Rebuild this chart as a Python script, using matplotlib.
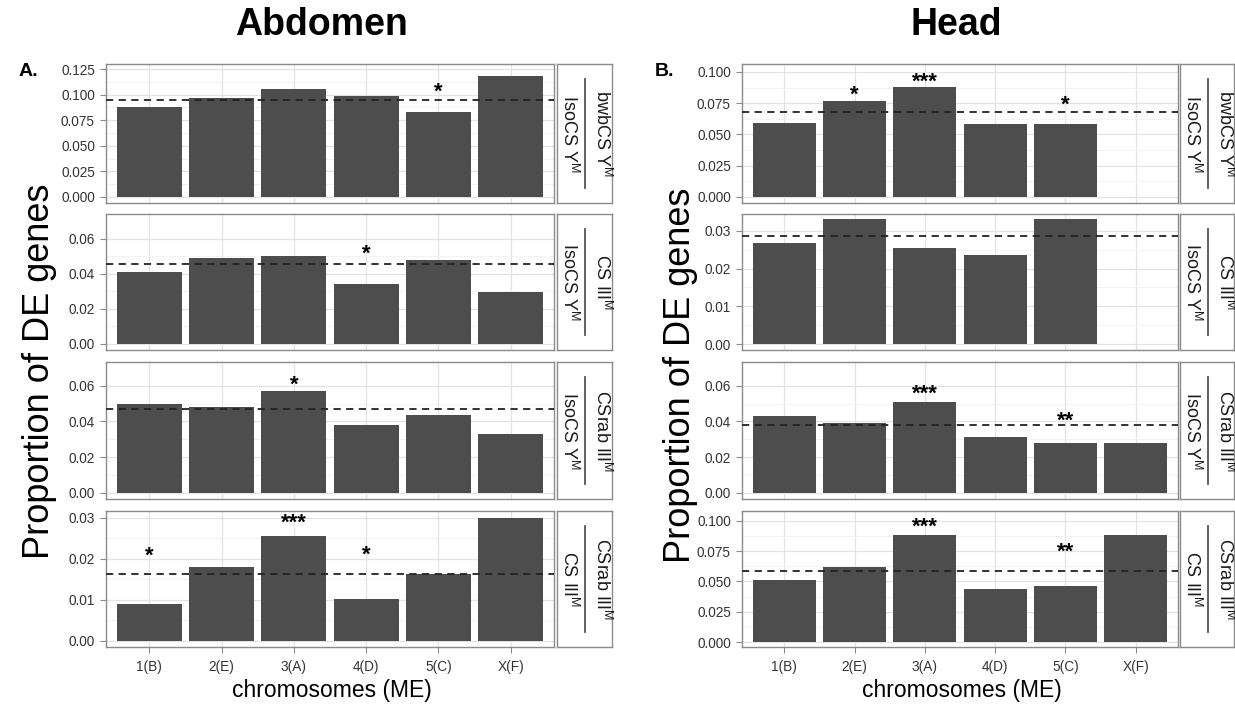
import numpy as np
import matplotlib
matplotlib.use("Agg")
import matplotlib.pyplot as plt

plt.rcParams['font.family'] = ['Liberation Sans', 'DejaVu Sans']
plt.rcParams['mathtext.fontset'] = 'custom'
plt.rcParams['mathtext.rm'] = 'Liberation Sans'
plt.rcParams['mathtext.it'] = 'Liberation Sans:italic'
plt.rcParams['mathtext.bf'] = 'Liberation Sans:bold'

# ---------------- data ----------------
categories = ['1(B)', '2(E)', '3(A)', '4(D)', '5(C)', 'X(F)']

abd_bwb_iso = [0.088, 0.097, 0.106, 0.099, 0.083, 0.118]
abd_cs_iso = [0.041, 0.049, 0.050, 0.034, 0.048, 0.0295]
abd_csrab_iso = [0.050, 0.048, 0.057, 0.038, 0.0435, 0.033]
abd_csrab_cs = [0.0091, 0.018, 0.0256, 0.0103, 0.0164, 0.0299]

head_bwb_iso = [0.059, 0.077, 0.088, 0.058, 0.058, 0.0]
head_cs_iso = [0.0267, 0.033, 0.0255, 0.0236, 0.033, 0.0]
head_csrab_iso = [0.043, 0.039, 0.051, 0.031, 0.028, 0.028]
head_csrab_cs = [0.051, 0.062, 0.088, 0.044, 0.046, 0.088]

abd_means = [0.095, 0.0455, 0.047, 0.0163]
head_means = [0.068, 0.0287, 0.038, 0.059]

abd_stars = [
    [(4, '*', 0.107)],
    [(3, '*', 0.054)],
    [(2, '*', 0.063)],
    [(0, '*', 0.0218), (2, '***', 0.0299), (3, '*', 0.022)],
]
head_stars = [
    [(1, '*', 0.085), (2, '***', 0.096), (4, '*', 0.077)],
    [],
    [(2, '***', 0.058), (4, '**', 0.043)],
    [(2, '***', 0.099), (4, '**', 0.078)],
]

SUP = r'$^{\mathrm{M}}$'
strip_top = ['bwbCS Y' + SUP, 'CS III' + SUP, 'CSrab III' + SUP, 'CSrab III' + SUP]
strip_bottom = ['IsoCS Y' + SUP, 'IsoCS Y' + SUP, 'IsoCS Y' + SUP, 'CS III' + SUP]

abd_ticks = [np.arange(0, 0.126, 0.025), [0, 0.02, 0.04, 0.06], [0, 0.02, 0.04, 0.06], [0, 0.01, 0.02, 0.03]]
abd_fmt = ['%.3f', '%.2f', '%.2f', '%.2f']
abd_lims = [(-0.006, 0.130), (-0.0035, 0.0743), (-0.0035, 0.0733), (-0.0015, 0.0317)]

head_ticks = [np.arange(0, 0.101, 0.025), [0, 0.01, 0.02, 0.03], [0, 0.02, 0.04, 0.06], np.arange(0, 0.101, 0.025)]
head_fmt = ['%.3f', '%.2f', '%.2f', '%.3f']
head_lims = [(-0.005, 0.1064), (-0.0015, 0.0344), (-0.0035, 0.0733), (-0.004, 0.108)]

# ---------------- layout ----------------
W, H = 1235, 706
fig = plt.figure(figsize=(W / 100, H / 100), dpi=100)

def rect(x0, x1, y0, y1):
    return [x0 / W, 1 - y1 / H, (x1 - x0) / W, (y1 - y0) / H]

rows_px = [(64, 203), (214, 350), (362, 499), (511, 647)]
BAR = '#4d4d4d'
BORDER = '#8a8a8a'
GRID = '#e3e3e3'
GRIDMIN = '#f1f1f1'
TICKC = '#333333'

def draw_group(x0, x1, sx0, sx1, series, means, stars, ticks, fmts, lims):
    xpos = np.arange(len(categories))
    for r, (y0, y1) in enumerate(rows_px):
        ax = fig.add_axes(rect(x0, x1, y0, y1))
        ax.set_facecolor('white')
        ax.bar(xpos, series[r], width=0.9, color=BAR, zorder=2)
        ax.axhline(means[r], color='#222222', ls=(0, (4, 3)), lw=1.3, zorder=3)
        for (i, lab, yv) in stars[r]:
            ax.annotate(lab, (xpos[i], yv), xytext=(0, -7.5), textcoords='offset points',
                        ha='center', va='baseline', fontsize=16, fontweight='bold', zorder=4)
        ax.set_xlim(-0.6, len(categories) - 0.4)
        ax.set_ylim(*lims[r])
        t = np.array(ticks[r], dtype=float)
        ax.set_yticks(t)
        ax.set_yticklabels([fmts[r] % v for v in t])
        step = t[1] - t[0]
        ax.set_yticks(t[:-1] + step / 2, minor=True)
        ax.set_xticks(xpos)
        ax.grid(True, which='major', color=GRID, lw=0.9, zorder=0)
        ax.grid(True, which='minor', axis='y', color=GRIDMIN, lw=0.6, zorder=0)
        ax.set_axisbelow(True)
        ax.tick_params(axis='y', which='major', length=4, color=BORDER, labelsize=9.8,
                       labelcolor=TICKC, pad=4)
        ax.tick_params(axis='y', which='minor', length=0)
        if r == len(rows_px) - 1:
            ax.set_xticklabels(categories)
            ax.tick_params(axis='x', length=4, color=BORDER, labelsize=9.8,
                           labelcolor=TICKC, pad=5)
        else:
            ax.tick_params(axis='x', length=0, labelbottom=False)
        for s in ax.spines.values():
            s.set_color(BORDER)
            s.set_linewidth(1.0)
        # strip
        sax = fig.add_axes(rect(sx0, sx1, y0, y1))
        sax.set_xlim(0, 1)
        sax.set_ylim(0, 1)
        sax.set_xticks([])
        sax.set_yticks([])
        for s in sax.spines.values():
            s.set_color(BORDER)
            s.set_linewidth(1.0)
        wpx = sx1 - sx0
        hpx = y1 - y0
        lx = 28 / wpx
        sax.plot([lx, lx], [15 / hpx, 1 - 15 / hpx], color='#555555', lw=1.3)
        sax.text((28 - 16) / wpx, 0.5, strip_bottom[r], rotation=-90, ha='center',
                 va='center', fontsize=13, color='#1a1a1a')
        sax.text((28 + 17) / wpx, 0.5, strip_top[r], rotation=-90, ha='center',
                 va='center', fontsize=13, color='#1a1a1a')

draw_group(106, 554, 557, 612,
           [abd_bwb_iso, abd_cs_iso, abd_csrab_iso, abd_csrab_cs],
           abd_means, abd_stars, abd_ticks, abd_fmt, abd_lims)
draw_group(742, 1178, 1180, 1234,
           [head_bwb_iso, head_cs_iso, head_csrab_iso, head_csrab_cs],
           head_means, head_stars, head_ticks, head_fmt, head_lims)

# titles and labels
fig.text(322 / W, 1 - 25 / H, 'Abdomen', ha='center', va='center', fontsize=27, fontweight='bold')
fig.text(956 / W, 1 - 25 / H, 'Head', ha='center', va='center', fontsize=27, fontweight='bold')
fig.text(28 / W, 1 - 72 / H, 'A.', ha='center', va='center', fontsize=14, fontweight='bold')
fig.text(665 / W, 1 - 72 / H, 'B.', ha='center', va='center', fontsize=14, fontweight='bold')
fig.text(40 / W, 1 - 371 / H, 'Proportion of DE genes', rotation=90, ha='center', va='center', fontsize=26)
fig.text(681 / W, 1 - 375 / H, 'Proportion of DE genes', rotation=90, ha='center', va='center', fontsize=26)
fig.text(332 / W, 1 - 690 / H, 'chromosomes (ME)', ha='center', va='center', fontsize=16.5)
fig.text(962 / W, 1 - 690 / H, 'chromosomes (ME)', ha='center', va='center', fontsize=16.5)

fig.savefig('out.png', dpi=100, facecolor='white')
